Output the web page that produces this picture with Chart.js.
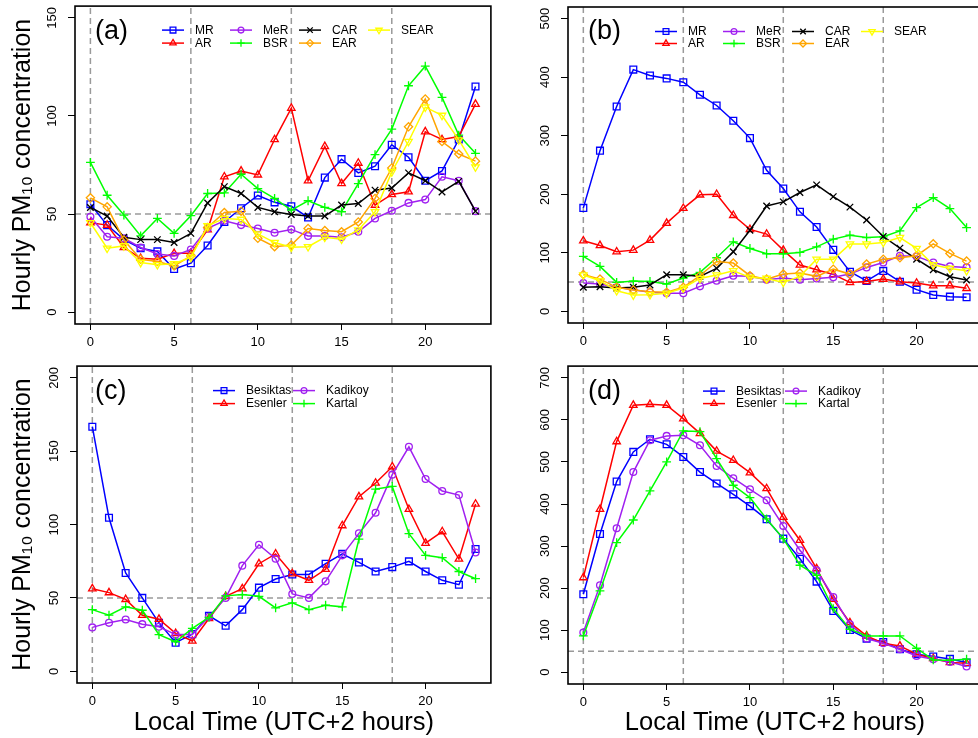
<!DOCTYPE html>
<html>
<head>
<meta charset="utf-8">
<script src="https://cdn.jsdelivr.net/npm/chart.js@4.4.0/dist/chart.umd.min.js"></script>
<style>
  html, body { margin: 0; padding: 0; background: #fff; overflow: hidden; width: 978px; height: 738px; }
  canvas { position: absolute; }
</style>
</head>
<body>
<canvas id="panelA" style="left:0px;top:0px" width="497" height="360"></canvas>
<canvas id="panelB" style="left:528px;top:0px" width="460" height="360"></canvas>
<canvas id="panelC" style="left:0px;top:360px" width="497" height="378"></canvas>
<canvas id="panelD" style="left:528px;top:360px" width="460" height="378"></canvas>
<script>
// Data
const hours = [0, 1, 2, 3, 4, 5, 6, 7, 8, 9, 10, 11, 12, 13, 14, 15, 16, 17, 18, 19, 20, 21, 22, 23];
const xTicks = [0, 5, 10, 15, 20];
const refHours = [0, 6, 12, 18];
const limitValue = 50;

const regionNames = ["MR", "AR", "MeR", "BSR", "CAR", "EAR", "SEAR"];
const stationNames = ["Besiktas", "Esenler", "Kadikoy", "Kartal"];

// (a) regions
const aMR = [55, 44.4, 37, 32.6, 31, 22, 25, 34, 46, 53, 59.5, 56, 54, 48.3, 68.6, 78, 71, 74.4, 85.3, 79, 67, 72, 88, 115];
const aAR = [45.6, 44.4, 33, 27.5, 27, 30, 30, 42, 69, 72, 70, 88, 104, 67, 84.5, 65.6, 76, 54.6, 60, 61.4, 92, 88, 89.5, 106];
const aMeR = [48.6, 38.5, 37.7, 33, 29.7, 28.7, 32, 42.7, 46.6, 44.4, 42.7, 40.5, 42.2, 38.9, 38.9, 38.2, 41, 47.8, 51.7, 55.7, 57.4, 69, 67, 51.5];
const aBSR = [76.4, 59.6, 49.5, 38.9, 47.8, 40.2, 49.2, 60.5, 60.8, 70.3, 63, 58, 52, 56.8, 53.4, 51.2, 65.5, 80.3, 93.3, 115.4, 125.4, 109.5, 90.3, 81];
const aCAR = [53.4, 49, 38.2, 37, 37, 35.5, 40.2, 55.7, 64, 60.5, 53.4, 51.2, 49.8, 49, 49, 54.6, 55.4, 62.2, 63.3, 71, 67, 61.3, 66.7, 51.5];
const aEAR = [58.3, 53.7, 36.8, 27, 25.8, 23.6, 28.7, 43.2, 50.8, 51.5, 37.7, 33.4, 34.3, 42.7, 41.6, 41, 46, 58, 73.5, 94.5, 108.7, 87, 80.6, 77];
const aSEAR = [45.6, 32.6, 33.8, 25.3, 24.2, 24.7, 28, 44, 47.8, 47.3, 39.9, 35.5, 33.1, 33.4, 38.2, 37.2, 41.9, 51.2, 71.5, 87, 104.5, 100.3, 87.8, 74];

// (b) regions
const bMR = [176.7, 274.5, 350, 413, 403, 398, 391.5, 370, 351.7, 325.6, 296, 241, 209.7, 170, 144, 105, 67.6, 52, 69, 50.6, 37, 28, 25, 24];
const bAR = [120.5, 112.5, 101.7, 104.5, 121.6, 150.6, 176, 199, 200, 164, 140, 132, 104.5, 79, 71, 63, 49.4, 51, 55, 50.6, 48.3, 43.8, 43.8, 39.2];
const bMeR = [48.3, 46.6, 41, 37, 32.4, 31, 31, 42.6, 52.3, 60.8, 59.7, 54, 57, 54, 56, 58, 63.6, 75, 83.5, 95, 93.8, 83.5, 76.7, 75];
const bBSR = [93.8, 76.7, 49.4, 51.7, 51, 46.6, 56.8, 66.5, 91.5, 118.8, 107.4, 98.3, 98.3, 100.6, 110, 123.3, 130, 126, 127.3, 137.5, 177.3, 194.3, 175.6, 143];
const bCAR = [41, 42, 39.8, 41, 45, 62.5, 62.5, 59.7, 73.3, 101.7, 138.6, 180, 187, 203, 216, 196, 178, 156, 127.8, 108, 89, 71, 59, 53.4];
const bEAR = [63, 55, 41, 36.4, 33.5, 32.4, 41, 60.8, 85.2, 82.4, 60.8, 55, 63.6, 65.3, 59.7, 72, 63.6, 80.7, 89, 91.5, 95, 115.3, 98.9, 85.8];
const bSEAR = [62, 52.3, 35.2, 27.8, 28.4, 30.7, 39.8, 56.2, 62, 69.3, 58, 56.2, 49.4, 59.7, 89, 89, 114.8, 114.8, 117.6, 126, 107.4, 79.5, 73.3, 69.3];

// (c) stations
const cBesiktas = [166.7, 104.6, 67, 50, 33, 19.5, 25.3, 37.8, 31, 42, 57, 62.9, 66, 66, 73.3, 80, 74.2, 68, 71, 74.9, 68, 62, 59, 83.3];
const cEsenler = [56.3, 53.6, 49, 38.2, 35.5, 25.8, 20.6, 36, 51, 56.3, 73.3, 80, 66.5, 62, 69.5, 99.3, 119, 128.3, 139.4, 110.4, 87.3, 95.2, 76.5, 114];
const cKadikoy = [29.9, 33, 35.3, 32.1, 30.3, 25, 25, 37.1, 50, 72, 86.2, 76.7, 52.7, 50, 61.3, 79, 94, 108, 134, 153, 131, 122.9, 120.1, 81];
const cKartal = [42, 38.2, 43.9, 41.6, 25, 20.1, 29.2, 36.7, 51.4, 52.3, 51.1, 43.2, 46.6, 42, 45, 43.9, 90, 124.2, 126, 93.8, 79, 77.4, 68, 63.1];

// (d) stations
const dBesiktas = [185.4, 328.8, 453.4, 524, 554, 542, 512, 476, 449, 423, 395, 363.7, 317.7, 270, 215.5, 145.8, 100.6, 80, 72, 54.7, 42.8, 37.2, 31.7, 23];
const dEsenler = [225, 387.5, 548.5, 635, 637, 635, 603, 568, 526, 504, 474.5, 436.8, 368.5, 313.8, 246.4, 173.5, 118, 86.4, 69, 62.6, 42.8, 32.5, 23, 21.4];
const dKadikoy = [94.3, 206.8, 342.3, 476, 551.7, 562, 563.5, 539.8, 490.6, 461.3, 435, 409, 347.9, 290, 242.5, 179, 114, 80, 69, 54.7, 38.8, 31, 24.6, 13.5];
const dKartal = [86.4, 193.3, 308.2, 362, 431.2, 500, 573.9, 572.3, 508, 444.7, 415.4, 364.5, 317.7, 254.4, 230.6, 151.3, 102.2, 86.4, 86.4, 86.4, 57, 29.3, 28.5, 31];

// Styles (R-like colours and pch symbols)
const styleMap = {
  MR:       { color: "#0000FF", pointStyle: "rect", radius: 4.8, rotation: 0 },
  AR:       { color: "#FF0000", pointStyle: "triangle", radius: 4.3, rotation: 0 },
  MeR:      { color: "#A020F0", pointStyle: "circle", radius: 3.4, rotation: 0 },
  BSR:      { color: "#00FF00", pointStyle: "cross", radius: 4.4, rotation: 0 },
  CAR:      { color: "#000000", pointStyle: "crossRot", radius: 4.6, rotation: 0 },
  EAR:      { color: "#FFA500", pointStyle: "rectRot", radius: 4.1, rotation: 0 },
  SEAR:     { color: "#FFFF00", pointStyle: "triangle", radius: 4.3, rotation: 180 },
  Besiktas: { color: "#0000FF", pointStyle: "rect", radius: 4.8, rotation: 0 },
  Esenler:  { color: "#FF0000", pointStyle: "triangle", radius: 4.3, rotation: 0 },
  Kadikoy:  { color: "#A020F0", pointStyle: "circle", radius: 3.4, rotation: 0 },
  Kartal:   { color: "#00FF00", pointStyle: "cross", radius: 4.4, rotation: 0 },
};

const FONT = "'Liberation Sans', Arial, Helvetica, sans-serif";
const REF_GREY = "#9a9a9a";

// Build datasets for one panel
function buildDatasets(names, values, yMin, yMax) {
  const sets = [];
  names.forEach((name, i) => {
    const st = styleMap[name];
    sets.push({
      label: name,
      data: hours.map((h, k) => ({ x: h, y: values[i][k] })),
      borderColor: st.color,
      borderWidth: 1.5,
      pointStyle: st.pointStyle,
      pointRadius: st.radius,
      pointRotation: st.rotation,
      pointBorderColor: st.color,
      pointBackgroundColor: "rgba(0,0,0,0)",
      pointBorderWidth: 1.3,
      tension: 0,
      fill: false,
      order: names.length - i, // later series drawn on top, like R
    });
  });
  // dashed reference lines (abline)
  refHours.forEach((h) => {
    sets.push({
      label: "ref",
      data: [{ x: h, y: yMin }, { x: h, y: yMax }],
      borderColor: REF_GREY,
      borderWidth: 1.5,
      borderDash: [6, 4],
      pointRadius: 0,
      order: 100,
    });
  });
  sets.push({
    label: "ref",
    data: [{ x: -0.92, y: limitValue }, { x: 23.92, y: limitValue }],
    borderColor: REF_GREY,
    borderWidth: 1.5,
    borderDash: [6, 4],
    pointRadius: 0,
    order: 100,
  });
  return sets;
}

// Frame, panel letter and R-style legend drawn on top
function decorPlugin(cfg) {
  return {
    id: "decor" + cfg.letter,
    afterDatasetsDraw(chart) {
      const ctx = chart.ctx;
      const area = chart.chartArea;
      ctx.save();
      ctx.strokeStyle = "#000";
      ctx.lineWidth = 1.6;
      ctx.strokeRect(area.left, area.top, area.right - area.left, area.bottom - area.top);

      ctx.fillStyle = "#000";
      ctx.font = "27px " + FONT;
      ctx.textBaseline = "middle";
      ctx.textAlign = "left";
      ctx.fillText("(" + cfg.letter + ")", area.left + cfg.letterDx, area.top + 25);

      ctx.font = "12px " + FONT;
      cfg.names.forEach((name, i) => {
        const col = Math.floor(i / 2);
        const row = i % 2;
        const st = styleMap[name];
        const x0 = area.left + cfg.legendCols[col];
        const y0 = area.top + cfg.legendRows[row];
        ctx.strokeStyle = st.color;
        ctx.lineWidth = 1.5;
        ctx.setLineDash([]);
        ctx.beginPath();
        ctx.moveTo(x0, y0);
        ctx.lineTo(x0 + 22, y0);
        ctx.stroke();
        ctx.fillStyle = "rgba(0,0,0,0)";
        ctx.lineWidth = 1.3;
        Chart.helpers.drawPoint(ctx, {
          pointStyle: st.pointStyle,
          radius: st.radius * 0.85,
          rotation: st.rotation,
          borderWidth: 1.3,
        }, x0 + 11, y0);
        ctx.fillStyle = "#000";
        ctx.fillText(name, x0 + 33, y0 + 0.5);
      });
      ctx.restore();
    },
  };
}

function makePanel(id, cfg) {
  const datasets = buildDatasets(cfg.names, cfg.values, cfg.yMin, cfg.yMax);
  return new Chart(document.getElementById(id).getContext("2d"), {
    type: "line",
    data: { datasets: datasets },
    options: {
      responsive: false,
      animation: false,
      layout: { padding: { top: cfg.padTop, right: 3, left: 0, bottom: 0 } },
      plugins: { legend: { display: false }, tooltip: { enabled: false } },
      scales: {
        x: {
          type: "linear",
          min: -0.92,
          max: 23.92,
          afterBuildTicks: (axis) => { axis.ticks = xTicks.map((v) => ({ value: v })); },
          afterFit: (axis) => { axis.height = cfg.xHeight; axis.paddingLeft = 0; axis.paddingRight = 0; },
          border: { display: false },
          grid: { drawOnChartArea: false, drawTicks: true, tickLength: 6, color: "#000", lineWidth: 1 },
          ticks: { color: "#000", font: { size: 13, family: FONT }, padding: 5, maxRotation: 0, minRotation: 0, autoSkip: false },
          title: {
            display: !!cfg.xTitle,
            text: "Local Time (UTC+2 hours)",
            color: "#000",
            font: { size: 25.5, family: FONT },
            padding: { top: 0, bottom: 0 },
          },
        },
        y: {
          type: "linear",
          min: cfg.yMin,
          max: cfg.yMax,
          afterBuildTicks: (axis) => { axis.ticks = cfg.yTicks.map((v) => ({ value: v })); },
          afterFit: (axis) => { axis.width = cfg.yWidth; axis.paddingTop = 0; axis.paddingBottom = 0; },
          border: { display: false },
          grid: { drawOnChartArea: false, drawTicks: true, tickLength: 7, color: "#000", lineWidth: 1 },
          ticks: {
            color: "#000",
            font: { size: 13, family: FONT },
            padding: 5,
            minRotation: 90,
            maxRotation: 90,
            crossAlign: "center",
            autoSkip: false,
          },
          title: {
            display: !!cfg.yTitle,
            text: "Hourly PM\u2081\u2080 concentration",
            color: "#000",
            font: { size: 25, family: FONT },
            padding: { top: 8, bottom: 0 },
          },
        },
      },
    },
    plugins: [decorPlugin(cfg)],
  });
}

makePanel("panelA", {
  letter: "a", letterDx: 20,
  names: regionNames, values: [aMR, aAR, aMeR, aBSR, aCAR, aEAR, aSEAR],
  yMin: -6, yMax: 156, yTicks: [0, 50, 100, 150],
  padTop: 5, yWidth: 75, xHeight: 36, yTitle: true, xTitle: false,
  legendCols: [87, 155, 224, 293], legendRows: [24, 37],
});

makePanel("panelB", {
  letter: "b", letterDx: 20,
  names: regionNames, values: [bMR, bAR, bMeR, bBSR, bCAR, bEAR, bSEAR],
  yMin: -20, yMax: 520, yTicks: [0, 100, 200, 300, 400, 500],
  padTop: 7, yWidth: 40, xHeight: 37, yTitle: false, xTitle: false,
  legendCols: [87, 155, 224, 293], legendRows: [24.5, 36.5],
});

makePanel("panelC", {
  letter: "c", letterDx: 18,
  names: stationNames, values: [cBesiktas, cEsenler, cKadikoy, cKartal],
  yMin: -8, yMax: 208, yTicks: [0, 50, 100, 150, 200],
  padTop: 5, yWidth: 77, xHeight: 55, yTitle: true, xTitle: true,
  legendCols: [136, 216], legendRows: [24.5, 37.5],
});

makePanel("panelD", {
  letter: "d", letterDx: 20,
  names: stationNames, values: [dBesiktas, dEsenler, dKadikoy, dKartal],
  yMin: -28, yMax: 728, yTicks: [0, 100, 200, 300, 400, 500, 600, 700],
  padTop: 6, yWidth: 40, xHeight: 54, yTitle: false, xTitle: true,
  legendCols: [135, 217], legendRows: [25, 37.5],
});
</script>
</body>
</html>
